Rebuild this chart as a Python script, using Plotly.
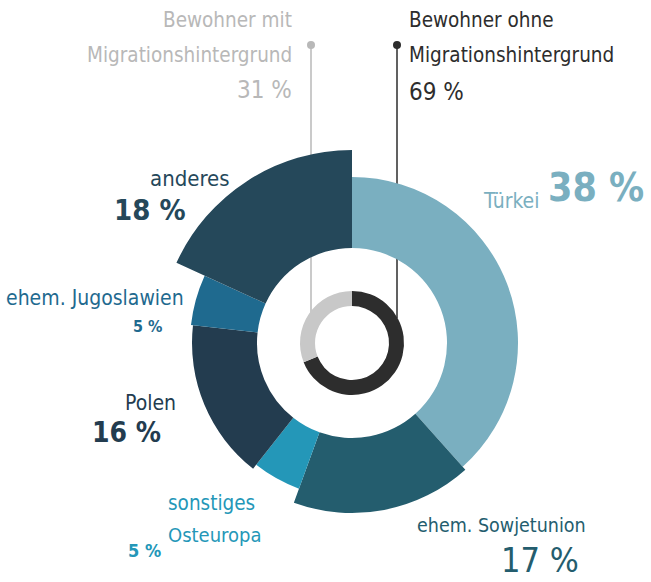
import plotly.graph_objects as go

# ---- data ----
countries = ["Türkei", "ehem. Sowjetunion", "sonstiges Osteuropa", "Polen", "ehem. Jugoslawien", "anderes"]
country_share = [38, 17, 5, 16, 5, 18]
groups = ["Bewohner ohne Migrationshintergrund", "Bewohner mit Migrationshintergrund"]
group_share = [69, 31]

# ---- style ----
country_colors = ["#7aafc0", "#245d6e", "#2497b8", "#233c4f", "#1f6a8f", "#25485a"]
outer_radius = [166, 170, 155, 160, 162, 193]
inner_radius = 95
group_colors = ["#2d2d2d", "#c8c8c8"]
ring_inner, ring_outer = 37, 52

W, H = 651, 582
CX, CY, P = 352, 343, 200
FONT = "DejaVu Sans Condensed, Roboto, sans-serif"


def cum_mid(vals):
    total = float(sum(vals))
    tot = 0
    mids, widths = [], []
    for v in vals:
        w = v / total * 360
        mids.append(tot + w / 2)
        widths.append(w)
        tot += w
    return mids, widths


fig = go.Figure()
th, wd = cum_mid(country_share)
fig.add_trace(go.Barpolar(
    theta=th, width=wd,
    r=[o - inner_radius for o in outer_radius], base=[inner_radius] * len(countries),
    marker=dict(color=country_colors, line=dict(width=0)),
    text=countries, hoverinfo="text", showlegend=False,
))
th2, wd2 = cum_mid(group_share)
fig.add_trace(go.Barpolar(
    theta=th2, width=wd2,
    r=[ring_outer - ring_inner] * 2, base=[ring_inner] * 2,
    marker=dict(color=group_colors, line=dict(width=0)),
    text=groups, hoverinfo="text", showlegend=False,
))

fig.update_layout(
    width=W, height=H, margin=dict(l=0, r=0, t=0, b=0),
    paper_bgcolor="white", plot_bgcolor="white",
    polar=dict(
        domain=dict(x=[(CX - P) / W, (CX + P) / W], y=[(H - CY - P) / H, (H - CY + P) / H]),
        bgcolor="rgba(0,0,0,0)",
        radialaxis=dict(range=[0, P], visible=False),
        angularaxis=dict(rotation=90, direction="clockwise", visible=False),
        bargap=0,
    ),
)


def px(x):
    return x / W


def py(y):
    return 1 - y / H


# leader lines and dots
for x, col in [(311, "#b8b8b8"), (397, "#2d2d2d")]:
    fig.add_shape(type="line", xref="paper", yref="paper", x0=px(x), x1=px(x), y0=py(45), y1=py(318),
                  line=dict(color=col, width=1.5), layer="below")
    fig.add_shape(type="circle", xref="paper", yref="paper", x0=px(x - 4), x1=px(x + 4), y0=py(41), y1=py(49),
                  fillcolor=col, line=dict(width=0), layer="below")


def ann(x, y, text, size, color, xanchor="left", bold=False):
    fig.add_annotation(x=px(x), y=py(y), xref="paper", yref="paper", text=("<b>%s</b>" % text) if bold else text,
                       showarrow=False, xanchor=xanchor, yanchor="middle",
                       font=dict(family=FONT, size=size, color=color))


pct = lambda v: "%d %%" % v

ann(294, 20, "Bewohner mit", 20.5, "#b8b8b8", "right")
ann(294, 55, "Migrationshintergrund", 20.5, "#b8b8b8", "right")
ann(294, 90, pct(group_share[1]), 24, "#b8b8b8", "right")
ann(407, 20, "Bewohner ohne", 20.5, "#2d2d2d")
ann(407, 55, "Migrationshintergrund", 20.5, "#2d2d2d")
ann(407, 92, pct(group_share[0]), 24, "#2d2d2d")

ann(541, 201, countries[0], 21, country_colors[0], "right")
ann(546, 188, pct(country_share[0]), 39, country_colors[0], "left", True)
ann(415, 525, countries[1], 19.5, country_colors[1])
ann(540, 560, pct(country_share[1]), 34, country_colors[1], "center")
ann(166, 503, "sonstiges", 20.5, country_colors[2])
ann(166, 535, "Osteuropa", 20, country_colors[2])
ann(144, 550, pct(country_share[2]), 18, country_colors[2], "center", True)
ann(178, 403, countries[3], 21, country_colors[3], "right")
ann(126, 432, pct(country_share[3]), 28, country_colors[3], "center", True)
ann(186, 298, countries[4], 21, country_colors[4], "right")
ann(164, 326, pct(country_share[4]), 16, country_colors[4], "right", True)
ann(232, 178, countries[5], 22, country_colors[5], "right")
ann(150, 210, pct(country_share[5]), 29, country_colors[5], "center", True)

fig.write_html("out.html", config={"displayModeBar": False},
               post_script="document.body.style.margin='0px';")
